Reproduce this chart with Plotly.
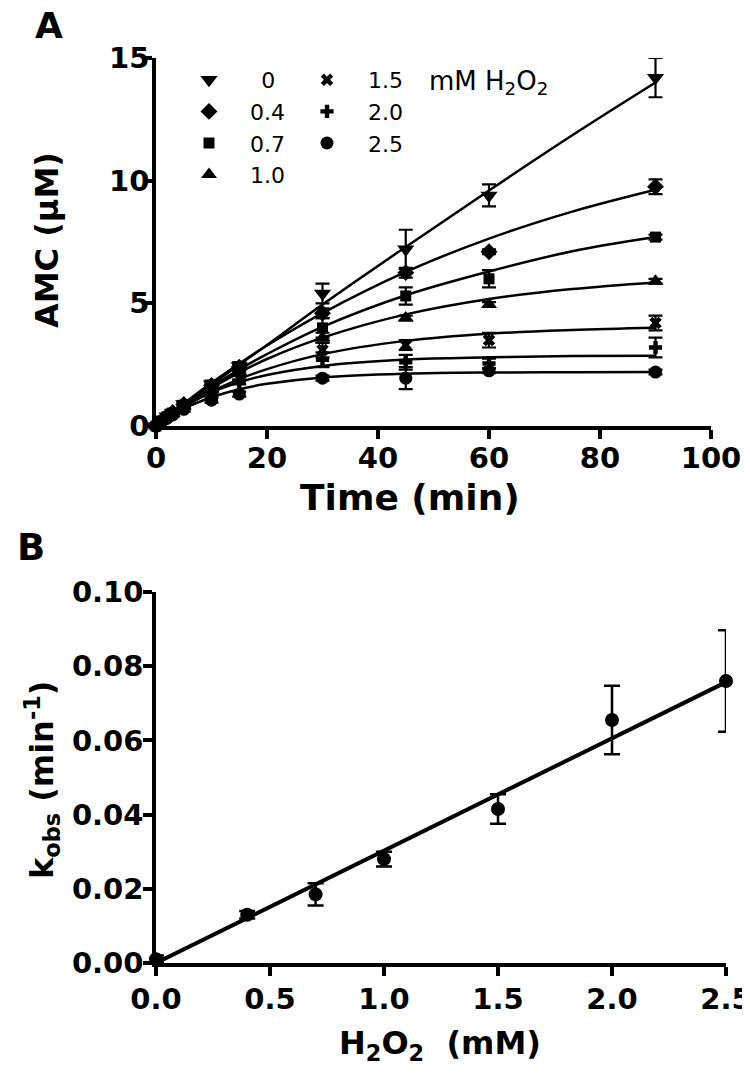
import plotly.graph_objects as go

# page body has an 8px margin: shift every paper position by it
OFF = 8
W, H = 750, 1079

# ---------------- Panel A data ----------------
times = [0, 1, 2, 3, 5, 10, 15, 30, 45, 60, 90]
conc_labels = ["0", "0.4", "0.7", "1.0", "1.5", "2.0", "2.5"]
symbols = ["triangle-down", "diamond", "square", "triangle-up", "x", "cross", "circle"]
marker_sizes = [15, 13, 11, 14, 11, 11, 13]

amc_0   = [0, 0.20, 0.40, 0.55, 0.90, 1.70, 2.45, 5.40, 7.20, 9.40, 14.20]
amc_04  = [0, 0.20, 0.40, 0.55, 0.88, 1.65, 2.40, 4.60, 6.25, 7.10, 9.75]
amc_07  = [0, 0.20, 0.38, 0.53, 0.85, 1.55, 2.30, 4.00, 5.30, 6.00, 7.70]
amc_10  = [0, 0.20, 0.37, 0.50, 0.82, 1.50, 2.20, 3.60, 4.40, 4.95, 5.90]
amc_15  = [0, 0.19, 0.35, 0.50, 0.80, 1.40, 1.95, 3.10, 3.30, 3.50, 4.20]
amc_20  = [0, 0.18, 0.35, 0.48, 0.78, 1.35, 1.80, 2.70, 2.60, 2.55, 3.20]
amc_25  = [0, 0.17, 0.32, 0.45, 0.68, 1.05, 1.30, 1.95, 1.95, 2.25, 2.20]

err_0   = [0.05, 0.05, 0.05, 0.10, 0.10, 0.15, 0.15, 0.40, 0.80, 0.45, 0.80]
err_04  = [0.05, 0.05, 0.05, 0.08, 0.10, 0.10, 0.15, 0.20, 0.20, 0.10, 0.30]
err_07  = [0.05, 0.05, 0.05, 0.08, 0.10, 0.10, 0.15, 0.40, 0.35, 0.35, 0.10]
err_10  = [0.05, 0.05, 0.05, 0.08, 0.10, 0.10, 0.10, 0.20, 0.10, 0.10, 0.10]
err_15  = [0.05, 0.05, 0.05, 0.08, 0.10, 0.10, 0.10, 0.30, 0.20, 0.30, 0.30]
err_20  = [0.05, 0.05, 0.05, 0.08, 0.10, 0.10, 0.10, 0.30, 0.30, 0.20, 0.40]
err_25  = [0.05, 0.05, 0.05, 0.05, 0.10, 0.10, 0.10, 0.10, 0.45, 0.10, 0.10]

# fitted curves
fit_t    = [0, 5, 10, 15, 20, 30, 45, 60, 75, 90]
fit_0    = [0, 0.85, 1.68, 2.50, 3.30, 4.95, 7.30, 9.60, 11.85, 14.00]
fit_04   = [0, 0.91, 1.76, 2.54, 3.28, 4.60, 6.28, 7.64, 8.74, 9.63]
fit_07   = [0, 0.84, 1.60, 2.30, 2.93, 4.04, 5.33, 6.30, 7.12, 7.70]
fit_10   = [0, 0.83, 1.55, 2.18, 2.73, 3.60, 4.55, 5.18, 5.58, 5.85]
fit_15   = [0, 0.77, 1.40, 1.91, 2.32, 2.93, 3.47, 3.76, 3.91, 4.00]
fit_20   = [0, 0.79, 1.37, 1.78, 2.08, 2.45, 2.71, 2.80, 2.85, 2.86]
fit_25   = [0, 0.70, 1.17, 1.50, 1.72, 1.98, 2.13, 2.18, 2.19, 2.20]

# ---------------- Panel B data ----------------
h2o2 = [0, 0.4, 0.7, 1.0, 1.5, 2.0, 2.5]
kobs = [0.001, 0.013, 0.0185, 0.028, 0.0415, 0.0655, 0.076]
kobs_err = [0.001, 0.001, 0.003, 0.002, 0.004, 0.0092, 0.0137]
line_x = [0, 2.5]
line_y = [0, 0.0757]

series_y = [amc_0, amc_04, amc_07, amc_10, amc_15, amc_20, amc_25]
series_e = [err_0, err_04, err_07, err_10, err_15, err_20, err_25]
fits = [fit_0, fit_04, fit_07, fit_10, fit_15, fit_20, fit_25]


def px(x):
    return (x - OFF) / W


def py(y):
    return 1 - (y - OFF) / H


fig = go.Figure()

for i in range(7):
    fig.add_trace(go.Scatter(
        x=fit_t, y=fits[i], mode="lines", line=dict(color="black", width=2.5, shape="spline"),
        showlegend=False, xaxis="x", yaxis="y", hoverinfo="skip", cliponaxis=False))

NB = "\u00a0"
for i in range(7):
    pad = NB * 3 + (NB + "\u2009" if conc_labels[i] == "0" else "")
    fig.add_trace(go.Scatter(
        x=times, y=series_y[i], mode="markers",
        marker=dict(symbol=symbols[i], size=marker_sizes[i], color="black", line=dict(width=0)),
        error_y=dict(type="data", array=series_e[i], visible=True, color="black", thickness=2.2, width=7),
        name=pad + conc_labels[i], xaxis="x", yaxis="y", cliponaxis=False,
        legend="legend" if i < 4 else "legend2"))

fig.add_trace(go.Scatter(
    x=line_x, y=line_y, mode="lines", line=dict(color="black", width=4),
    showlegend=False, xaxis="x2", yaxis="y2", cliponaxis=False))
fig.add_trace(go.Scatter(
    x=h2o2, y=kobs, mode="markers",
    marker=dict(symbol="circle", size=14, color="black"),
    error_y=dict(type="data", array=kobs_err, visible=True, color="black", thickness=2.5, width=8),
    showlegend=False, xaxis="x2", yaxis="y2", cliponaxis=False))

tickfont = dict(family="DejaVu Sans", size=29, color="black", weight="bold")
axis_common = dict(showline=True, linecolor="black", linewidth=3.5, ticks="outside", ticklen=9,
                   tickwidth=3.5, tickcolor="black", showgrid=False, zeroline=False,
                   tickfont=tickfont, mirror=False, automargin=False, ticklabeloverflow="allow")

fig.update_layout(
    width=W, height=H, margin=dict(l=0, r=0, t=0, b=0, autoexpand=False),
    paper_bgcolor="white", plot_bgcolor="white",
    xaxis=dict(domain=[px(156), px(711)], range=[0, 100], dtick=20, anchor="y",
               ticklabelstandoff=-6, **axis_common),
    yaxis=dict(domain=[py(426), py(58)], range=[0, 15], dtick=5, anchor="x",
               ticklabelstandoff=-12, **axis_common),
    xaxis2=dict(domain=[px(156), px(726)], range=[0, 2.5], dtick=0.5, tickformat=".1f", anchor="y2",
                ticklabelstandoff=-2, **axis_common),
    yaxis2=dict(domain=[py(963), py(592)], range=[0, 0.10], dtick=0.02, tickformat=".2f", anchor="x2",
                ticklabelstandoff=-6, **axis_common),
    legend=dict(x=px(189), y=py(59), xanchor="left", yanchor="top", bgcolor="rgba(0,0,0,0)",
                font=dict(family="DejaVu Sans", size=22, color="black"), itemclick=False),
    legend2=dict(x=px(307), y=py(59), xanchor="left", yanchor="top", bgcolor="rgba(0,0,0,0)",
                 font=dict(family="DejaVu Sans", size=22, color="black"), itemclick=False),
    showlegend=True,
)

ann_bold = dict(family="DejaVu Sans", color="black", weight="bold")
anns = [
    dict(text="A", x=px(49), y=py(26), font=dict(size=36, **ann_bold)),
    dict(text="B", x=px(31), y=py(547), font=dict(size=37, **ann_bold)),
    dict(text="AMC (μM)", x=px(47), y=py(240), textangle=-90, font=dict(size=32, **ann_bold)),
    dict(text="Time (min)", x=px(410), y=py(497), font=dict(size=36, **ann_bold)),
    dict(text="k<sub>obs</sub> (min<sup>-1</sup>)", x=px(42), y=py(780), textangle=-90, font=dict(size=32, **ann_bold)),
    dict(text="H<sub>2</sub>O<sub>2</sub>  (mM)", x=px(440), y=py(1045), font=dict(size=32, **ann_bold)),
    dict(text="mM H<sub>2</sub>O<sub>2</sub>", x=px(427), y=py(82), xanchor="left",
         font=dict(family="DejaVu Sans", size=26, color="black")),
]
for a in anns:
    a.setdefault("xanchor", "center")
    fig.add_annotation(xref="paper", yref="paper", yanchor="middle", showarrow=False, **a)

fig.write_html("out.html")
